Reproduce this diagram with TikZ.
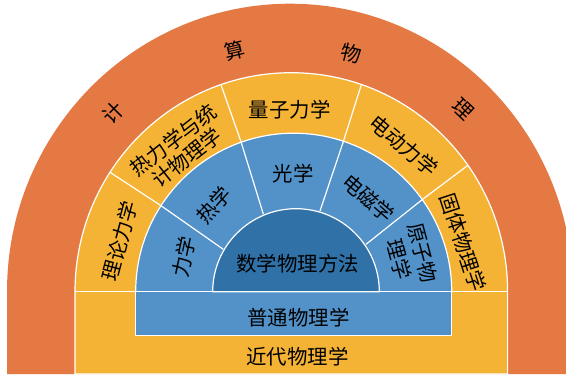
\documentclass[tikz,border=0pt]{standalone}
\usepackage{fontspec}
\newfontfamily\cjk{Noto Sans CJK SC}
\definecolor{orng}{RGB}{229,121,67}
\definecolor{yel}{RGB}{245,179,53}
\definecolor{blu}{RGB}{82,146,200}
\definecolor{dkb}{RGB}{48,113,168}
\begin{document}
\begin{tikzpicture}[x=1bp,y=-1bp,
  lbl/.style={font=\cjk\fontsize{20.5}{22}\selectfont, text=black, inner sep=0pt, align=center},
  sep/.style={draw=white, line width=1.2bp}]
\useasboundingbox (0,0) rectangle (566,378);
\clip (0,0) rectangle (566,378);
% outer orange band
\fill[orng] (7,374) -- (7,291.7) arc[start angle=180,end angle=360,x radius=283,y radius=288] -- (573,374) -- cycle;
% yellow band
\path[fill=yel, sep] (75,374) -- (75,291.7) arc[start angle=180,end angle=360,x radius=216.3,y radius=219] -- (507.6,374) -- cycle;
\draw[sep] (75,291.7) -- (507.6,291.7);
% blue band
\path[fill=blu, sep] (135.7,291.7) arc[start angle=180,end angle=360,x radius=158,y radius=158.5] -- cycle;
\path[fill=blu, sep] (135.7,291.7) rectangle (451.7,335.7);
% dividers
\draw[sep] (223.3,249.3) -- (160,205) -- (110,172.3);
\draw[sep] (263.3,214) -- (241,141.7) -- (221,84.8);
\draw[sep] (320,211) -- (343.3,141.7) -- (361.3,84.8);
\draw[sep] (366,244.3) -- (423,199) -- (468,165.3);
% core
\path[fill=dkb, sep] (212.7,291.7) arc[start angle=180,end angle=360,x radius=83.3,y radius=83] -- cycle;
% outer ring letters
\node[lbl, rotate=45]  (t1) at (113.3,113.3) {计};
\node[lbl, rotate=13]  (t2) at (235,50.5) {算};
\node[lbl, rotate=-14] (t3) at (351.3,53.3) {物};
\node[lbl, rotate=-43.5] (t4) at (463,109.3) {理};
% yellow ring
\node[lbl, rotate=75]  (y1) at (120,241) {理论力学};
\node[lbl, rotate=38]  (y2) at (180,149) {热力学与统\\计物理学};
\node[lbl]             (y3) at (289.7,110) {量子力学};
\node[lbl, rotate=-40] (y4) at (403.8,145.8) {电动力学};
\node[lbl, rotate=-72] (y5) at (463,242.3) {固体物理学};
% blue ring
\node[lbl, rotate=78]  (b1) at (184,257) {力学};
\node[lbl, rotate=48]  (b2) at (214,205) {热学};
\node[lbl]             (b3) at (293.3,173.5) {光学};
\node[lbl, rotate=-41] (b4) at (368.3,198.3) {电磁学};
\node[lbl, rotate=-75, font=\cjk\fontsize{20.5}{24.5}\selectfont] (b5) at (411,256) {原子物\\理学};
% core and bars
\node[lbl] (c0) at (297.7,263.3) {数学物理方法};
\node[lbl] (r1) at (298.5,317.3) {普通物理学};
\node[lbl] (r2) at (297.5,357) {近代物理学};
\end{tikzpicture}
\end{document}
